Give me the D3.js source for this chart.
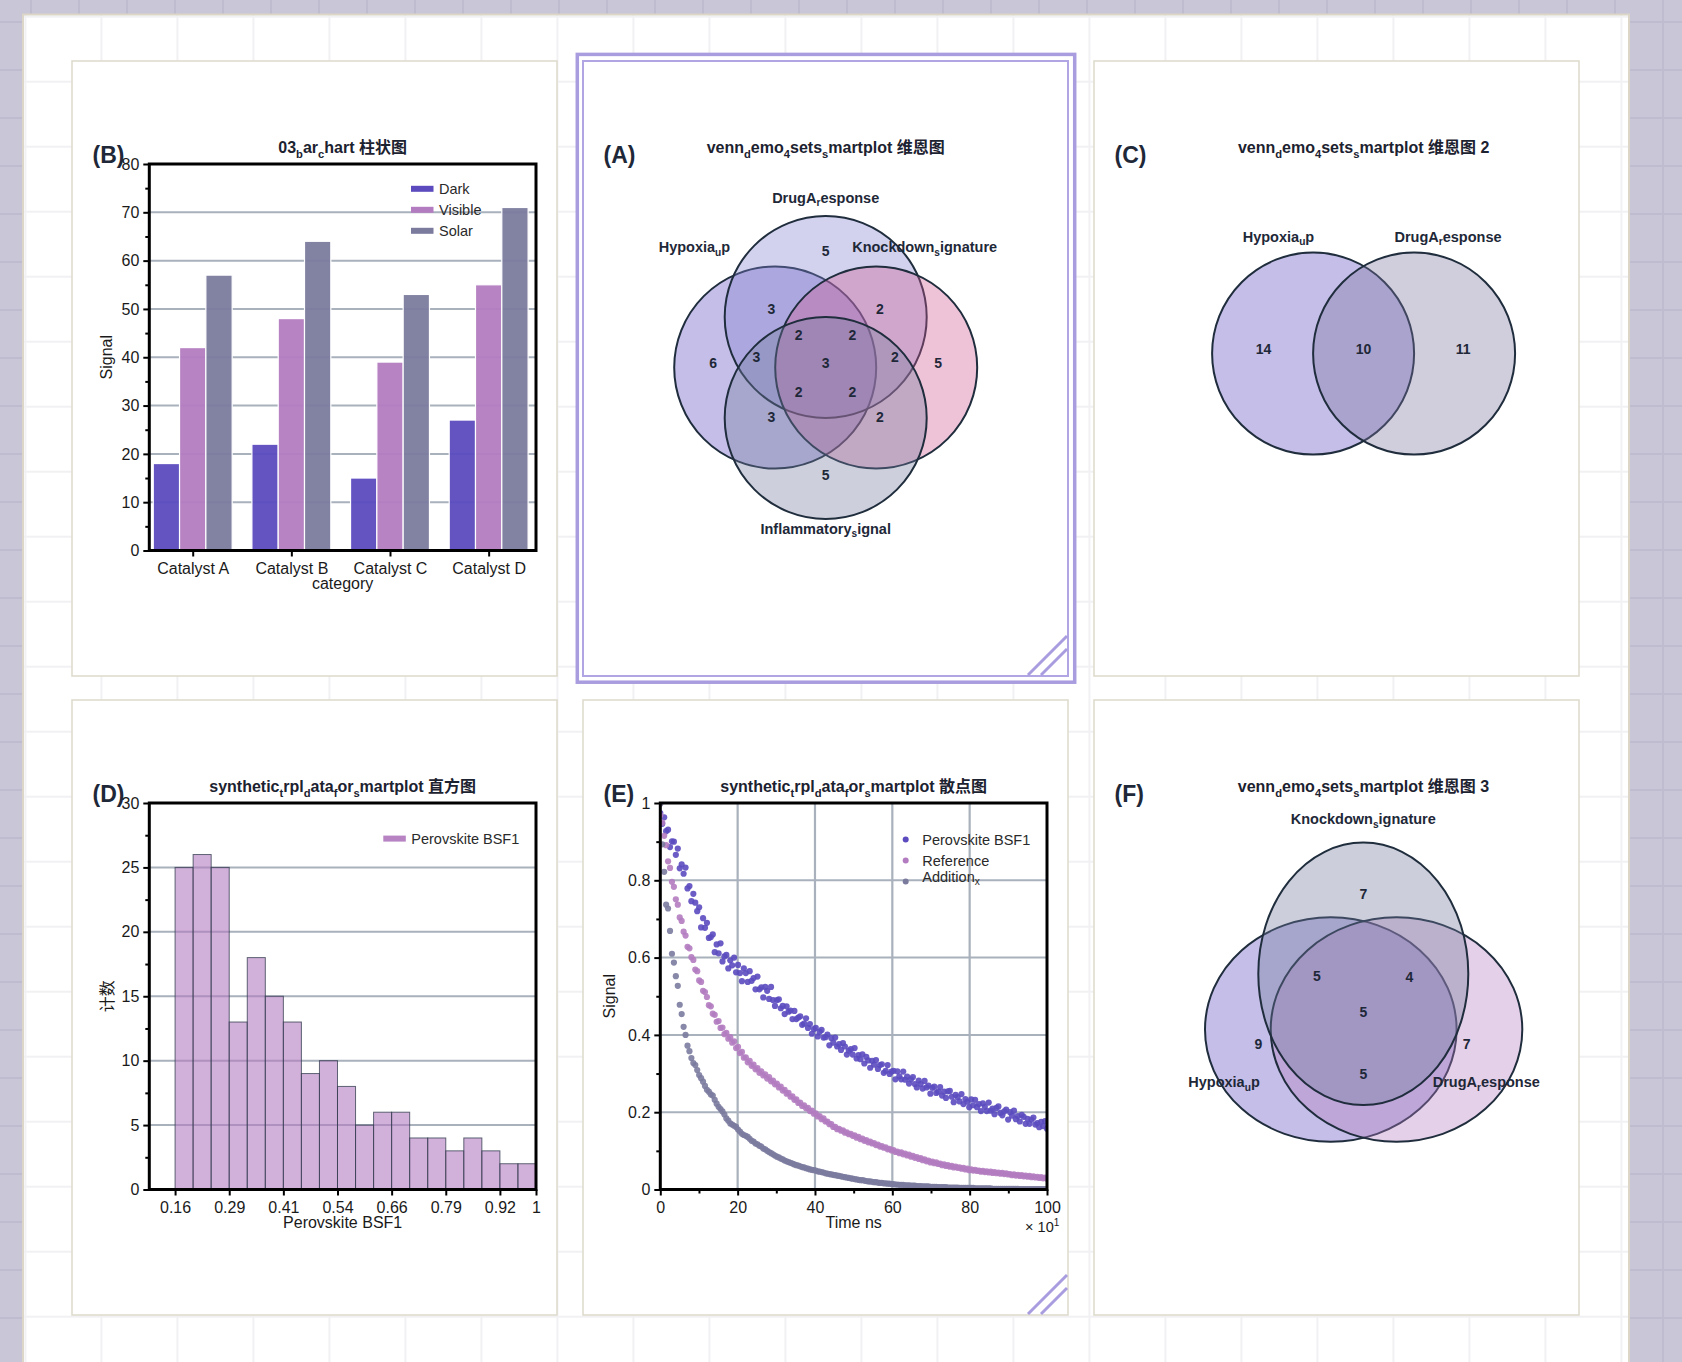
<!DOCTYPE html>
<html>
<head>
<meta charset="utf-8">
<script src="https://cdn.jsdelivr.net/npm/d3@7"></script>
<style>
  html, body { margin: 0; padding: 0; background: #c9c7d7; }
  svg { display: block; }
</style>
</head>
<body>
<svg id="fig" width="1682" height="1362"></svg>
<script>
// ---------- data: (B) bar chart ----------
var barCategories = ["Catalyst A", "Catalyst B", "Catalyst C", "Catalyst D"];
var barSeries = ["Dark", "Visible", "Solar"];
var barDark = [18, 22, 15, 27];
var barVisible = [42, 48, 39, 55];
var barSolar = [57, 64, 53, 71];
var barYTicks = [0, 10, 20, 30, 40, 50, 60, 70, 80];
var barYMinor = [5, 15, 25, 35, 45, 55, 65, 75];

// ---------- data: (D) histogram ----------
var histEdges = [0.16, 0.202, 0.244, 0.286, 0.328, 0.37, 0.412, 0.454, 0.496, 0.538, 0.58,
                 0.622, 0.664, 0.706, 0.748, 0.79, 0.832, 0.874, 0.916, 0.958, 1.0];
var histCounts = [25, 26, 25, 13, 18, 15, 13, 9, 10, 8, 5, 6, 6, 4, 4, 3, 4, 3, 2, 2];
var histXTicks = [0.16, 0.286, 0.412, 0.538, 0.664, 0.79, 0.916, 1.0];
var histXLabels = ["0.16", "0.29", "0.41", "0.54", "0.66", "0.79", "0.92", "1"];
var histYTicks = [0, 5, 10, 15, 20, 25, 30];
var histYMinor = [2.5, 7.5, 12.5, 17.5, 22.5, 27.5];

// ---------- data: (E) decay scatter, 200 samples over 0..100 (x10 ns) ----------
var scatterNames = ["Perovskite BSF1", "Reference", "Addition_x"];
var perovskite = [
  .974,.946,.963,.927,.931,.886,.901,.900,.866,.882, .831,.841,.817,.833,.779,.785,.746,.765,.742,.720,
  .730,.678,.702,.677,.690,.651,.653,.660,.614,.634, .611,.637,.590,.603,.607,.572,.593,.580,.600,.562,
  .581,.560,.539,.572,.560,.537,.565,.540,.547,.518, .551,.518,.523,.497,.524,.514,.493,.524,.490,.475,
  .490,.492,.469,.475,.454,.474,.460,.463,.441,.462, .441,.445,.448,.426,.429,.443,.418,.428,.403,.415,
  .418,.396,.408,.413,.393,.394,.401,.373,.392,.380, .393,.370,.376,.361,.379,.370,.349,.359,.363,.349,
  .366,.339,.348,.337,.350,.326,.343,.334,.315,.333, .323,.335,.312,.322,.324,.302,.307,.322,.299,.305,
  .307,.285,.306,.293,.285,.305,.284,.292,.274,.285, .291,.273,.264,.282,.273,.261,.281,.264,.269,.248,
  .263,.266,.250,.253,.265,.243,.253,.237,.254,.255, .240,.226,.245,.239,.228,.247,.221,.234,.227,.213,
  .233,.218,.232,.213,.221,.203,.223,.214,.203,.225, .204,.209,.195,.211,.215,.198,.192,.202,.207,.181,
  .200,.191,.204,.182,.190,.176,.193,.188,.170,.183, .170,.181,.186,.168,.172,.161,.175,.164,.177,.157
];
var reference = [
  .968,.949,.915,.891,.849,.832,.796,.783,.751,.737, .704,.695,.667,.657,.628,.624,.601,.594,.569,.565,
  .541,.537,.514,.511,.498,.477,.474,.455,.452,.434, .436,.418,.419,.402,.405,.390,.394,.380,.383,.366,
  .369,.353,.356,.341,.342,.329,.333,.320,.323,.311, .314,.302,.306,.295,.298,.287,.291,.280,.282,.272,
  .274,.264,.266,.256,.258,.248,.250,.240,.241,.232, .233,.224,.225,.216,.218,.210,.211,.203,.204,.196,
  .197,.189,.190,.182,.184,.176,.176,.169,.169,.162, .162,.156,.157,.152,.153,.147,.148,.143,.144,.139,
  .140,.134,.136,.130,.132,.126,.128,.122,.124,.119, .120,.115,.116,.111,.112,.108,.109,.104,.105,.101,
  .102,.097,.098,.094,.096,.091,.093,.088,.090,.085, .087,.082,.084,.079,.081,.076,.078,.073,.075,.070,
  .072,.068,.070,.066,.067,.063,.065,.061,.063,.059, .061,.057,.059,.056,.057,.054,.056,.052,.054,.050,
  .052,.049,.051,.048,.049,.046,.048,.045,.047,.044, .046,.043,.045,.042,.044,.041,.043,.040,.042,.039,
  .040,.037,.039,.036,.038,.035,.037,.034,.036,.033, .035,.032,.034,.031,.033,.030,.032,.029,.031,.028
];
var additionX = [
  .998,.893,.822,.737,.727,.669,.610,.587,.552,.527, .478,.454,.421,.400,.372,.358,.340,.327,.322,.309,
  .296,.288,.279,.268,.258,.253,.246,.243,.232,.222, .214,.208,.202,.194,.184,.178,.171,.168,.165,.162,
  .155,.150,.144,.141,.139,.136,.131,.126,.124,.119, .117,.113,.111,.106,.104,.100,.097,.094,.091,.088,
  .085,.083,.080,.078,.075,.073,.071,.069,.067,.065, .063,.062,.060,.058,.057,.055,.054,.052,.051,.050,
  .049,.047,.046,.045,.044,.042,.041,.040,.039,.038, .037,.036,.035,.034,.033,.032,.031,.030,.029,.028,
  .027,.026,.025,.024,.024,.023,.022,.021,.021,.020, .019,.019,.018,.017,.017,.016,.016,.015,.015,.014,
  .014,.013,.013,.012,.012,.012,.011,.011,.011,.010, .010,.010,.009,.009,.009,.008,.008,.008,.008,.007,
  .007,.007,.007,.006,.006,.006,.006,.006,.005,.005, .005,.005,.005,.005,.004,.004,.004,.004,.004,.004,
  .004,.004,.003,.003,.003,.003,.003,.003,.003,.003, .003,.002,.002,.002,.002,.002,.002,.002,.002,.002,
  .002,.002,.002,.002,.002,.001,.001,.001,.001,.001, .001,.001,.001,.001,.001,.001,.001,.001,.001,.001
];
var scatterXTicks = [0, 20, 40, 60, 80, 100];
var scatterXMinor = [10, 30, 50, 70, 90];
var scatterYTicks = [0, 0.2, 0.4, 0.6, 0.8, 1];
var scatterYLabels = ["0", "0.2", "0.4", "0.6", "0.8", "1"];
var scatterYMinor = [0.1, 0.3, 0.5, 0.7, 0.9];

// ---------- data: venn diagrams ----------
var vennASets = ["Hypoxia_up", "DrugA_response", "Knockdown_signature", "Inflammatory_signal"];
var vennACounts = [5, 3, 2, 2, 2, 6, 3, 3, 2, 5, 2, 2, 3, 2, 5];
var vennCSets = ["Hypoxia_up", "DrugA_response"];
var vennCCounts = [14, 10, 11];
var vennFSets = ["Hypoxia_up", "DrugA_response", "Knockdown_signature"];
var vennFCounts = [7, 5, 4, 5, 9, 7, 5];

// ---------- style / layout ----------
var FONT = '"Liberation Sans", Arial, "Noto Sans CJK SC", sans-serif';
var INK = '#1e2838';
var gridColor = '#a8b1bc';
var palette = ['#5b4bbf', '#b37cc0', '#7b7b9e'];
var tickFont = 16;
var panelCols = [72, 583, 1094];
var panelRows = [61, 700];
var panelW = 485, panelH = 615;

var svg = d3.select('#fig');
var defs = svg.append('defs');

// page background + grid
var pagePat = defs.append('pattern').attr('id', 'pageGrid').attr('patternUnits', 'userSpaceOnUse')
  .attr('x', 30).attr('y', 21).attr('width', 48).attr('height', 48);
pagePat.append('rect').attr('width', 48).attr('height', 48).attr('fill', '#c9c7d7');
pagePat.append('path').attr('d', 'M1 0V48M0 1H48').attr('stroke', '#bebcce').attr('stroke-width', 2);
svg.append('rect').attr('width', 1682).attr('height', 1362).attr('fill', 'url(#pageGrid)');

// card + faint inner grid
var cardPat = defs.append('pattern').attr('id', 'cardGrid').attr('patternUnits', 'userSpaceOnUse')
  .attr('x', 100.4).attr('y', 80.7).attr('width', 76).attr('height', 65);
cardPat.append('rect').attr('width', 76).attr('height', 65).attr('fill', '#fff');
cardPat.append('path').attr('d', 'M1 0V65M0 1H76').attr('stroke', '#f1f1f4').attr('stroke-width', 2);
svg.append('rect').attr('x', 23).attr('y', 14.5).attr('width', 1606).attr('height', 1400)
  .attr('fill', 'url(#cardGrid)').attr('stroke', '#dbd6c8').attr('stroke-width', 2);

// panels
var panels = [
  {id: 'B', col: 0, row: 0}, {id: 'A', col: 1, row: 0}, {id: 'C', col: 2, row: 0},
  {id: 'D', col: 0, row: 1}, {id: 'E', col: 1, row: 1}, {id: 'F', col: 2, row: 1}
];
var box = {};
panels.forEach(function(p) {
  var px = panelCols[p.col], py = panelRows[p.row];
  box[p.id] = {px: px, py: py, left: px + 77.3, top: py + 103, w: 386.7, h: 386.5};
  if (p.id === 'A') {
    svg.append('rect').attr('x', 577.3).attr('y', 54.4).attr('width', 497.4).attr('height', 627.8)
      .attr('fill', '#fff').attr('stroke', '#a99cdf').attr('stroke-width', 3.5);
  }
  svg.append('rect').attr('x', px).attr('y', py).attr('width', panelW).attr('height', panelH)
    .attr('fill', '#fff')
    .attr('stroke', p.id === 'A' ? '#b1a6e3' : '#dfdbce')
    .attr('stroke-width', p.id === 'A' ? 2 : 1.6);
});

// corner stripes on A and E
['A', 'E'].forEach(function(id) {
  var b = box[id];
  var r = b.px + panelW - 1, btm = b.py + panelH - 1;
  [39, 26].forEach(function(d) {
    svg.append('line').attr('x1', r - d).attr('y1', btm).attr('x2', r).attr('y2', btm - d)
      .attr('stroke', '#a99de0').attr('stroke-width', 3);
  });
});

// text with "_x" rendered as a subscript, the way the reference shows it
function richText(sel, str, fs) {
  var parts = str.split('_');
  sel.append('tspan').text(parts[0]);
  for (var i = 1; i < parts.length; i++) {
    sel.append('tspan').attr('font-size', fs * 0.7).attr('dy', fs * 0.3).text(parts[i].charAt(0));
    sel.append('tspan').attr('dy', -fs * 0.3).text(parts[i].slice(1));
  }
  return sel;
}

function panelHeader(id, title, cx) {
  var b = box[id];
  svg.append('text').attr('x', b.px + 20.5).attr('y', b.top - 1)
    .attr('font-family', FONT).attr('font-weight', 'bold').attr('font-size', 23).attr('fill', INK)
    .text('(' + id + ')');
  var t = svg.append('text').attr('x', cx).attr('y', b.top - 11.3).attr('text-anchor', 'middle')
    .attr('font-family', FONT).attr('font-weight', 'bold').attr('font-size', 16).attr('fill', '#1c2230');
  richText(t, title, 16);
}

function styleAxis(ax) {
  ax.attr('font-family', FONT).attr('font-size', tickFont);
  ax.select('.domain').remove();
  ax.selectAll('.tick line').attr('stroke', '#000').attr('stroke-width', 2);
  ax.selectAll('.tick text').attr('fill', '#1a1a1a');
}
function leftAxis(g, y, major, minor, labels) {
  var ax = g.append('g').call(d3.axisLeft(y).tickValues(major).tickSize(6).tickPadding(4)
    .tickFormat(function(d) { return labels[major.indexOf(d)]; }));
  styleAxis(ax);
  if (minor.length) styleAxis(g.append('g').call(d3.axisLeft(y).tickValues(minor).tickSize(4).tickFormat('')));
}
function bottomAxis(g, x, h, major, minor, labels) {
  var ax = g.append('g').attr('transform', 'translate(0,' + h + ')')
    .call(d3.axisBottom(x).tickValues(major).tickSize(6).tickPadding(6)
      .tickFormat(function(d) { return labels[major.indexOf(d)]; }));
  styleAxis(ax);
  if (minor.length) {
    styleAxis(g.append('g').attr('transform', 'translate(0,' + h + ')')
      .call(d3.axisBottom(x).tickValues(minor).tickSize(4).tickFormat('')));
  }
}
function hGrid(g, y, vals, w) {
  g.append('g').selectAll('line').data(vals).join('line')
    .attr('x1', 0).attr('x2', w).attr('y1', function(d) { return y(d); }).attr('y2', function(d) { return y(d); })
    .attr('stroke', gridColor).attr('stroke-width', 2);
}
function vGrid(g, x, vals, h) {
  g.append('g').selectAll('line').data(vals).join('line')
    .attr('y1', 0).attr('y2', h).attr('x1', function(d) { return x(d); }).attr('x2', function(d) { return x(d); })
    .attr('stroke', gridColor).attr('stroke-width', 2.2);
}
function frame(g, b) {
  g.append('rect').attr('width', b.w).attr('height', b.h).attr('fill', 'none')
    .attr('stroke', '#000').attr('stroke-width', 3);
}
function axisLabels(g, b, xText, yText, yOff) {
  g.append('text').attr('x', b.w / 2).attr('y', b.h + 38.5).attr('text-anchor', 'middle')
    .attr('font-family', FONT).attr('font-size', 16).attr('fill', '#1a1a1a').text(xText);
  g.append('text').attr('transform', 'translate(' + (-yOff) + ',' + (b.h / 2) + ') rotate(-90)')
    .attr('text-anchor', 'middle').attr('font-family', FONT).attr('font-size', 16).attr('fill', '#1a1a1a')
    .text(yText);
}

// ---------- (B) grouped bars ----------
(function() {
  var b = box.B;
  panelHeader('B', '03_bar_chart 柱状图', b.left + b.w / 2);
  var g = svg.append('g').attr('transform', 'translate(' + b.left + ',' + b.top + ')');
  var x = d3.scaleLinear().domain([-0.44, 3.48]).range([0, b.w]);
  var y = d3.scaleLinear().domain([0, 80]).range([b.h, 0]);
  hGrid(g, y, barYTicks.slice(1, -1), b.w);
  var bw = 0.8 / barSeries.length;
  [barDark, barVisible, barSolar].forEach(function(vals, si) {
    g.append('g').selectAll('rect').data(vals).join('rect')
      .attr('x', function(d, i) { return x(i - 0.4 + si * bw); })
      .attr('y', function(d) { return y(d); })
      .attr('width', x(bw) - x(0))
      .attr('height', function(d) { return y(0) - y(d); })
      .attr('fill', palette[si]).attr('fill-opacity', 0.95)
      .attr('stroke', '#fff').attr('stroke-width', 1.2);
  });
  var catIdx = barCategories.map(function(d, i) { return i; });
  leftAxis(g, y, barYTicks, barYMinor, barYTicks.map(String));
  bottomAxis(g, x, b.h, catIdx, [], barCategories);
  frame(g, b);
  axisLabels(g, b, 'category', 'Signal', 37);
  var lg = g.append('g').attr('transform', 'translate(' + (b.w - 125) + ',24.8)');
  barSeries.forEach(function(s, i) {
    lg.append('rect').attr('x', 0).attr('y', i * 21 - 3).attr('width', 22.5).attr('height', 6)
      .attr('fill', palette[i]);
    lg.append('text').attr('x', 28).attr('y', i * 21).attr('dominant-baseline', 'central')
      .attr('font-family', FONT).attr('font-size', 14.5).attr('fill', '#2a2a2a').text(s);
  });
})();

// ---------- (D) histogram ----------
(function() {
  var b = box.D;
  panelHeader('D', 'synthetic_trpl_data_for_smartplot 直方图', b.left + b.w / 2);
  var g = svg.append('g').attr('transform', 'translate(' + b.left + ',' + b.top + ')');
  var x = d3.scaleLinear().domain([0.1, 1.0]).range([0, b.w]);
  var y = d3.scaleLinear().domain([0, 30]).range([b.h, 0]);
  hGrid(g, y, histYTicks.slice(1, -1), b.w);
  g.append('g').selectAll('rect').data(histCounts).join('rect')
    .attr('x', function(d, i) { return x(histEdges[i]); })
    .attr('width', function(d, i) { return x(histEdges[i + 1]) - x(histEdges[i]); })
    .attr('y', function(d) { return y(d); })
    .attr('height', function(d) { return y(0) - y(d); })
    .attr('fill', palette[1]).attr('fill-opacity', 0.6)
    .attr('stroke', '#2f3a4c').attr('stroke-opacity', 0.75).attr('stroke-width', 1);
  leftAxis(g, y, histYTicks, histYMinor, histYTicks.map(String));
  bottomAxis(g, x, b.h, histXTicks, [], histXLabels);
  frame(g, b);
  axisLabels(g, b, 'Perovskite BSF1', '计数', 36);
  var lg = g.append('g').attr('transform', 'translate(' + (b.w - 152.7) + ',35.6)');
  lg.append('rect').attr('x', 0).attr('y', -3).attr('width', 22.5).attr('height', 6)
    .attr('fill', palette[1]).attr('fill-opacity', 0.95);
  lg.append('text').attr('x', 28).attr('y', 0).attr('dominant-baseline', 'central')
    .attr('font-family', FONT).attr('font-size', 14.5).attr('fill', '#2a2a2a').text('Perovskite BSF1');
})();

// ---------- (E) scatter ----------
(function() {
  var b = box.E;
  panelHeader('E', 'synthetic_trpl_data_for_smartplot 散点图', b.left + b.w / 2);
  var g = svg.append('g').attr('transform', 'translate(' + b.left + ',' + b.top + ')');
  var x = d3.scaleLinear().domain([0, 100]).range([0, b.w]);
  var y = d3.scaleLinear().domain([0, 1]).range([b.h, 0]);
  defs.append('clipPath').attr('id', 'clipE').append('rect').attr('width', b.w).attr('height', b.h);
  vGrid(g, x, scatterXTicks.slice(1, -1), b.h);
  hGrid(g, y, scatterYTicks.slice(1, -1), b.w);
  var series = [perovskite, reference, additionX];
  var pts = g.append('g').attr('clip-path', 'url(#clipE)');
  series.forEach(function(vals, si) {
    var step = 100 / (vals.length - 1);
    pts.append('g').selectAll('circle').data(vals).join('circle')
      .attr('cx', function(d, i) { return x(i * step); })
      .attr('cy', function(d) { return y(d); })
      .attr('r', 3.1).attr('fill', palette[si]).attr('fill-opacity', 0.9);
  });
  leftAxis(g, y, scatterYTicks, scatterYMinor, scatterYLabels);
  bottomAxis(g, x, b.h, scatterXTicks, scatterXMinor, scatterXTicks.map(String));
  frame(g, b);
  axisLabels(g, b, 'Time ns', 'Signal', 45);
  var off = g.append('text').attr('x', b.w + 12.3).attr('y', b.h + 42.4).attr('text-anchor', 'end')
    .attr('font-family', FONT).attr('font-size', 14.5).attr('fill', '#1a1a1a');
  off.append('tspan').text('× 10');
  off.append('tspan').attr('font-size', 10).attr('dy', -6).text('1');
  var lg = g.append('g').attr('transform', 'translate(' + (b.w - 141.3) + ',36.6)');
  var rowY = [0, 21, 42];
  var textLift = [0, 0, -5];
  scatterNames.forEach(function(s, i) {
    lg.append('circle').attr('cx', 0).attr('cy', rowY[i]).attr('r', 3).attr('fill', palette[i]);
    var t = lg.append('text').attr('x', 16.6).attr('y', rowY[i] + textLift[i]).attr('dominant-baseline', 'central')
      .attr('font-family', FONT).attr('font-size', 14.5).attr('fill', '#2a2a2a');
    richText(t, s, 14.5);
  });
})();

// ---------- venn diagrams ----------
function drawVenn(id, title, layout, sets, colors, counts) {
  var b = box[id];
  panelHeader(id, title, layout.cx);
  var x = d3.scaleLinear().domain([-1, 1]).range([layout.cx - layout.unit, layout.cx + layout.unit]);
  var y = d3.scaleLinear().domain([-1, 1]).range([layout.cy - layout.unit, layout.cy + layout.unit]);
  var g = svg.append('g');
  g.selectAll('ellipse').data(sets).join('ellipse')
    .attr('cx', function(d, i) { return x(layout.shapes[i][0]); })
    .attr('cy', function(d, i) { return y(layout.shapes[i][1]); })
    .attr('rx', function(d, i) { return x(layout.shapes[i][2]) - x(0); })
    .attr('ry', function(d, i) { return y(layout.shapes[i][3]) - y(0); })
    .attr('fill', function(d, i) { return colors[i]; }).attr('fill-opacity', 0.36)
    .attr('stroke', '#1f2d3d').attr('stroke-width', 2);
  g.selectAll('text.count').data(counts).join('text').attr('class', 'count')
    .attr('x', function(d, i) { return x(layout.countPos[i][0]); })
    .attr('y', function(d, i) { return y(layout.countPos[i][1]); })
    .attr('text-anchor', 'middle').attr('dominant-baseline', 'central')
    .attr('font-family', FONT).attr('font-weight', 'bold').attr('font-size', 14).attr('fill', INK)
    .text(function(d) { return d; });
  sets.forEach(function(s, i) {
    var t = g.append('text').attr('x', x(layout.labelPos[i][0])).attr('y', y(layout.labelPos[i][1]))
      .attr('text-anchor', 'middle').attr('dominant-baseline', 'central')
      .attr('font-family', FONT).attr('font-weight', 'bold').attr('font-size', 14.5).attr('fill', INK);
    richText(t, s, 14.5);
  });
}

drawVenn('A', 'venn_demo_4sets_smartplot 维恩图', {
  cx: 825.7, cy: 367.5, unit: 101,
  shapes: [[-0.5, 0, 1, 1], [0, -0.5, 1, 1], [0.5, 0, 1, 1], [0, 0.5, 1, 1]],
  labelPos: [[-1.30, -1.19], [0, -1.68], [0.98, -1.19], [0, 1.60]],
  countPos: [[0, -1.15], [-0.537, -0.575], [0.537, -0.575], [-0.268, -0.325], [0.264, -0.325],
             [-1.115, -0.043], [-0.687, -0.101], [0, -0.043], [0.686, -0.101], [1.113, -0.043],
             [-0.268, 0.246], [0.264, 0.246], [-0.537, 0.495], [0.537, 0.495], [0, 1.067]]
}, vennASets, ['#5b4bbf', '#8282d0', '#d05893', '#757c9f'], vennACounts);

drawVenn('C', 'venn_demo_4sets_smartplot 维恩图 2', {
  cx: 1363.6, cy: 353.6, unit: 101,
  shapes: [[-0.5, 0, 1, 1], [0.5, 0, 1, 1]],
  labelPos: [[-0.843, -1.155], [0.836, -1.155]],
  countPos: [[-0.99, -0.042], [0, -0.042], [0.985, -0.042]]
}, vennCSets, ['#5b4bbf', '#7d749f'], vennCCounts);

drawVenn('F', 'venn_demo_4sets_smartplot 维恩图 3', {
  cx: 1363.5, cy: 1000, unit: 100,
  shapes: [[-0.327, 0.295, 1.258, 1.122], [0.33, 0.295, 1.258, 1.122], [-0.002, -0.262, 1.05, 1.312]],
  labelPos: [[-1.395, 0.823], [1.228, 0.823], [-0.002, -1.807]],
  countPos: [[-0.002, -1.06], [-0.465, -0.24], [0.458, -0.233], [-0.002, 0.117],
             [-1.052, 0.44], [1.032, 0.44], [-0.002, 0.743]]
}, vennFSets, ['#5b4bbf', '#b37cc0', '#717a9c'], vennFCounts);
</script>
</body>
</html>
